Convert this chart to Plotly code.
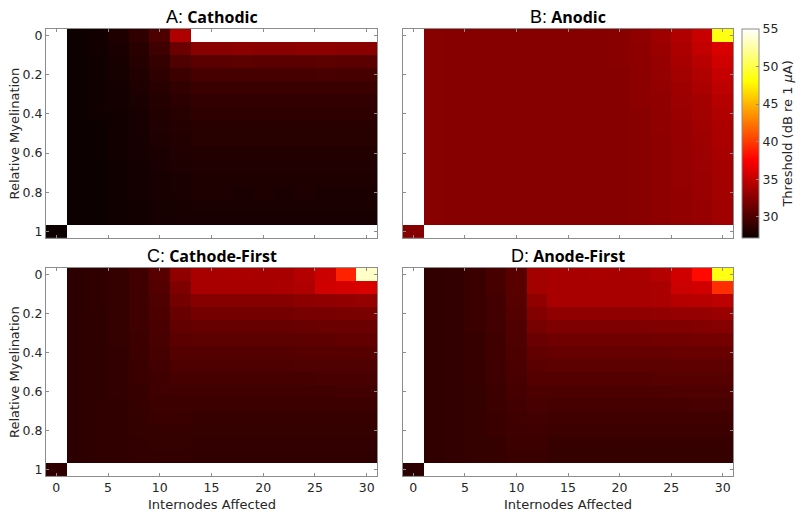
import plotly.graph_objects as go

N = None

# x: internodes affected (cell centres), y: relative myelination (cell centres)
internodes = [0, 2, 4, 6, 8, 10, 12, 14, 16, 18, 20, 22, 24, 26, 28, 30]
myelination = [0.0, 0.0667, 0.1333, 0.2, 0.2667, 0.3333, 0.4, 0.4667,
               0.5333, 0.6, 0.6667, 0.7333, 0.8, 0.8667, 0.9333, 1.0]
x_ticks = [0, 5, 10, 15, 20, 25, 30]
y_ticks = [0, 0.2, 0.4, 0.6, 0.8, 1]
y_ticklabels = ["0", "0.2", "0.4", "0.6", "0.8", "1"]
cbar_ticks = [30, 35, 40, 45, 50, 55]

# Thresholds (dB re 1 uA); rows = myelination 0 .. 0.933, columns = internodes 2 .. 30
cathodic = [
    [27.3, 27.5, 28.0, 28.8, 30.0, 34.2, N, N, N, N, N, N, N, N, N],
    [27.3, 27.5, 27.9, 28.5, 29.4, 31.3, 32.6, 32.6, 32.7, 32.6, 32.6, 32.7, 32.7, 32.6, 32.6],
    [27.3, 27.4, 27.8, 28.3, 29.0, 30.1, 30.6, 30.6, 30.7, 30.6, 30.6, 30.6, 30.7, 30.6, 30.6],
    [27.3, 27.4, 27.7, 28.1, 28.7, 29.3, 29.7, 29.7, 29.7, 29.7, 29.7, 29.7, 29.8, 29.7, 29.7],
    [27.3, 27.4, 27.6, 28.0, 28.5, 28.9, 29.2, 29.2, 29.2, 29.2, 29.2, 29.2, 29.2, 29.2, 29.2],
    [27.3, 27.4, 27.6, 27.9, 28.3, 28.6, 28.9, 28.9, 28.9, 28.9, 28.9, 28.9, 28.9, 28.9, 28.9],
    [27.3, 27.4, 27.5, 27.8, 28.2, 28.4, 28.7, 28.7, 28.7, 28.7, 28.7, 28.7, 28.7, 28.7, 28.7],
    [27.3, 27.3, 27.5, 27.8, 28.1, 28.3, 28.5, 28.5, 28.5, 28.5, 28.5, 28.5, 28.5, 28.5, 28.5],
    [27.3, 27.3, 27.5, 27.7, 28.0, 28.2, 28.4, 28.4, 28.4, 28.4, 28.4, 28.4, 28.4, 28.4, 28.4],
    [27.3, 27.3, 27.5, 27.7, 27.9, 28.1, 28.2, 28.2, 28.2, 28.2, 28.2, 28.2, 28.2, 28.2, 28.2],
    [27.3, 27.3, 27.4, 27.6, 27.9, 28.0, 28.1, 28.1, 28.1, 28.1, 28.1, 28.1, 28.1, 28.1, 28.1],
    [27.3, 27.3, 27.4, 27.6, 27.8, 27.9, 28.0, 28.0, 28.0, 28.0, 28.0, 28.0, 28.0, 28.0, 28.0],
    [27.3, 27.3, 27.4, 27.6, 27.8, 27.9, 28.0, 28.0, 27.9, 28.0, 27.9, 28.0, 27.9, 27.9, 27.9],
    [27.3, 27.3, 27.4, 27.5, 27.7, 27.8, 27.9, 27.9, 27.9, 27.9, 27.9, 27.9, 27.9, 27.9, 27.9],
    [27.3, 27.3, 27.4, 27.5, 27.7, 27.8, 27.8, 27.8, 27.8, 27.8, 27.8, 27.8, 27.8, 27.8, 27.8],
]
cathodic_intact = 27.3

anodic = [
    [32.6, 32.5, 32.5, 32.5, 32.5, 32.5, 32.5, 32.5, 32.5, 32.6, 32.9, 33.5, 34.3, 35.3, 48.5],
    [32.6, 32.5, 32.5, 32.5, 32.5, 32.5, 32.5, 32.5, 32.5, 32.6, 32.8, 33.3, 34.1, 35.0, 36.0],
    [32.6, 32.5, 32.5, 32.5, 32.5, 32.5, 32.5, 32.5, 32.5, 32.6, 32.8, 33.2, 33.9, 34.6, 35.6],
    [32.6, 32.5, 32.5, 32.5, 32.5, 32.5, 32.5, 32.5, 32.5, 32.5, 32.7, 33.1, 33.7, 34.3, 35.2],
    [32.6, 32.5, 32.5, 32.5, 32.5, 32.5, 32.5, 32.5, 32.5, 32.5, 32.7, 33.0, 33.5, 34.0, 34.8],
    [32.6, 32.5, 32.5, 32.5, 32.5, 32.5, 32.5, 32.5, 32.5, 32.5, 32.7, 32.9, 33.4, 33.8, 34.5],
    [32.6, 32.5, 32.5, 32.5, 32.5, 32.5, 32.5, 32.5, 32.5, 32.5, 32.6, 32.9, 33.3, 33.7, 34.3],
    [32.6, 32.5, 32.5, 32.5, 32.5, 32.5, 32.5, 32.5, 32.5, 32.5, 32.6, 32.9, 33.2, 33.6, 34.1],
    [32.6, 32.5, 32.5, 32.5, 32.5, 32.5, 32.5, 32.5, 32.5, 32.5, 32.6, 32.8, 33.2, 33.5, 34.0],
    [32.6, 32.5, 32.5, 32.5, 32.5, 32.5, 32.5, 32.5, 32.5, 32.5, 32.6, 32.8, 33.1, 33.4, 33.9],
    [32.6, 32.5, 32.5, 32.5, 32.5, 32.5, 32.5, 32.5, 32.5, 32.5, 32.6, 32.8, 33.1, 33.4, 33.8],
    [32.6, 32.5, 32.5, 32.5, 32.5, 32.5, 32.5, 32.5, 32.5, 32.5, 32.6, 32.8, 33.1, 33.3, 33.7],
    [32.6, 32.5, 32.5, 32.5, 32.5, 32.5, 32.5, 32.5, 32.5, 32.5, 32.6, 32.8, 33.0, 33.3, 33.7],
    [32.6, 32.5, 32.5, 32.5, 32.5, 32.5, 32.5, 32.5, 32.5, 32.5, 32.6, 32.8, 33.0, 33.2, 33.6],
    [32.6, 32.5, 32.5, 32.5, 32.5, 32.5, 32.5, 32.5, 32.5, 32.5, 32.6, 32.8, 33.0, 33.2, 33.6],
]
anodic_intact = 32.4

cathode_first = [
    [28.6, 28.8, 29.0, 29.5, 30.5, 32.9, 33.9, 33.9, 34.0, 33.9, 33.9, 34.4, 35.4, 39.0, 53.5],
    [28.6, 28.8, 29.0, 29.5, 30.3, 32.1, 33.9, 33.9, 33.9, 33.9, 34.0, 34.2, 35.6, 35.8, 36.0],
    [28.6, 28.8, 29.0, 29.4, 30.1, 31.7, 32.5, 32.5, 32.5, 32.5, 32.5, 32.7, 32.9, 33.0, 33.1],
    [28.6, 28.7, 29.0, 29.4, 30.0, 31.2, 31.7, 31.7, 31.7, 31.7, 31.7, 31.8, 31.9, 32.0, 32.0],
    [28.6, 28.7, 29.0, 29.4, 29.9, 30.9, 31.1, 31.1, 31.1, 31.1, 31.1, 31.2, 31.3, 31.3, 31.3],
    [28.6, 28.7, 29.0, 29.3, 29.8, 30.6, 30.7, 30.7, 30.7, 30.7, 30.7, 30.8, 30.8, 30.9, 30.9],
    [28.6, 28.7, 28.9, 29.3, 29.7, 30.3, 30.3, 30.3, 30.3, 30.3, 30.3, 30.4, 30.4, 30.4, 30.5],
    [28.6, 28.7, 28.9, 29.2, 29.6, 30.0, 30.0, 30.0, 30.0, 30.0, 30.0, 30.1, 30.1, 30.1, 30.1],
    [28.6, 28.7, 28.9, 29.2, 29.5, 29.7, 29.7, 29.7, 29.7, 29.7, 29.7, 29.7, 29.8, 29.8, 29.8],
    [28.6, 28.7, 28.9, 29.1, 29.4, 29.5, 29.5, 29.5, 29.5, 29.5, 29.5, 29.5, 29.5, 29.6, 29.6],
    [28.6, 28.7, 28.8, 29.1, 29.3, 29.3, 29.3, 29.3, 29.3, 29.3, 29.3, 29.3, 29.3, 29.3, 29.3],
    [28.6, 28.7, 28.8, 29.0, 29.2, 29.2, 29.1, 29.1, 29.1, 29.1, 29.1, 29.1, 29.1, 29.1, 29.1],
    [28.6, 28.7, 28.8, 29.0, 29.1, 29.1, 29.0, 29.0, 29.0, 29.0, 29.0, 29.0, 29.0, 29.0, 29.0],
    [28.6, 28.7, 28.8, 28.9, 29.0, 29.0, 28.9, 28.9, 28.9, 28.9, 28.9, 28.9, 28.9, 28.9, 28.9],
    [28.6, 28.7, 28.8, 28.9, 28.9, 28.9, 28.8, 28.8, 28.8, 28.8, 28.8, 28.8, 28.8, 28.8, 28.8],
]
cathode_first_intact = 28.7

anode_first = [
    [28.8, 28.9, 29.2, 29.7, 30.5, 33.7, 33.9, 33.9, 34.0, 33.9, 34.0, 34.4, 35.6, 38.0, 48.5],
    [28.8, 28.9, 29.2, 29.7, 30.5, 33.7, 33.9, 33.9, 33.9, 33.9, 33.9, 34.0, 35.4, 35.6, 39.5],
    [28.8, 28.9, 29.2, 29.6, 30.4, 32.9, 33.9, 33.9, 33.9, 33.9, 33.9, 34.0, 34.5, 34.6, 34.8],
    [28.8, 28.9, 29.2, 29.6, 30.3, 32.3, 32.9, 32.9, 32.9, 32.9, 32.9, 33.0, 33.1, 33.2, 33.3],
    [28.8, 28.9, 29.2, 29.6, 30.2, 31.8, 32.1, 32.1, 32.1, 32.1, 32.1, 32.2, 32.2, 32.3, 32.4],
    [28.8, 28.9, 29.1, 29.5, 30.1, 31.3, 31.5, 31.5, 31.5, 31.5, 31.5, 31.6, 31.6, 31.7, 31.7],
    [28.8, 28.9, 29.1, 29.5, 30.0, 30.9, 31.1, 31.1, 31.1, 31.1, 31.1, 31.1, 31.2, 31.2, 31.2],
    [28.8, 28.9, 29.1, 29.4, 29.9, 30.6, 30.7, 30.7, 30.7, 30.7, 30.7, 30.7, 30.8, 30.8, 30.8],
    [28.8, 28.9, 29.1, 29.4, 29.8, 30.3, 30.3, 30.3, 30.3, 30.3, 30.3, 30.4, 30.4, 30.4, 30.4],
    [28.8, 28.9, 29.0, 29.3, 29.7, 30.0, 30.0, 30.0, 30.0, 30.0, 30.0, 30.0, 30.1, 30.1, 30.1],
    [28.8, 28.9, 29.0, 29.3, 29.6, 29.8, 29.7, 29.7, 29.7, 29.7, 29.7, 29.7, 29.7, 29.8, 29.8],
    [28.8, 28.9, 29.0, 29.2, 29.5, 29.6, 29.5, 29.5, 29.5, 29.5, 29.5, 29.5, 29.5, 29.5, 29.5],
    [28.8, 28.9, 29.0, 29.2, 29.4, 29.4, 29.3, 29.3, 29.3, 29.3, 29.3, 29.3, 29.3, 29.3, 29.3],
    [28.8, 28.9, 29.0, 29.1, 29.3, 29.3, 29.1, 29.1, 29.1, 29.1, 29.1, 29.1, 29.1, 29.1, 29.1],
    [28.8, 28.9, 29.0, 29.1, 29.2, 29.2, 29.0, 29.0, 29.0, 29.0, 29.0, 29.0, 29.0, 29.0, 29.0],
]
anode_first_intact = 28.6

panel_letters = ["A:", "B:", "C:", "D:"]
panel_names = ["Cathodic", "Anodic", "Cathode-First", "Anode-First"]
x_label = "Internodes Affected"
y_label = "Relative Myelination"
cbar_label = "Threshold (dB re 1 <i>μ</i>A)"
z_min, z_max = 27.2, 55


def full_grid(rows, intact):
    z = [[None] + list(r) for r in rows]
    z.append([intact] + [None] * (len(internodes) - 1))
    return z


W, H = 800, 517


def fx(px):
    return px / W


def fy(py):
    return 1 - py / H


# plot-area boxes in window pixels (left, right, top, bottom)
boxes = [(46, 377, 28, 238), (403, 733, 28, 238),
         (46, 377, 268, 477), (403, 733, 268, 477)]

hot = [[0.0, "rgb(11,0,0)"], [0.375, "rgb(255,0,0)"],
       [0.75, "rgb(255,255,0)"], [1.0, "rgb(255,255,255)"]]

grid_color = "#8c8c8c"
text_color = "#262626"
FONT = "DejaVu Sans"

fig = go.Figure()
datasets = [(cathodic, cathodic_intact), (anodic, anodic_intact),
            (cathode_first, cathode_first_intact), (anode_first, anode_first_intact)]

layout = {}
annotations = []
for i, (rows, intact) in enumerate(datasets):
    sfx = "" if i == 0 else str(i + 1)
    fig.add_trace(go.Heatmap(
        x=internodes, y=myelination, z=full_grid(rows, intact),
        coloraxis="coloraxis", xaxis="x" + sfx, yaxis="y" + sfx,
        hoverongaps=False))
    l, r, t, b = boxes[i]
    common = dict(showline=True, mirror="ticks", linecolor=grid_color, linewidth=1,
                  ticks="inside", ticklen=3, tickcolor=grid_color, showgrid=False,
                  zeroline=False, tickfont=dict(family=FONT, size=12.5, color=text_color))
    layout["xaxis" + sfx] = dict(domain=[fx(l), fx(r)], anchor="y" + sfx,
                                 range=[-1, 31], tickvals=x_ticks,
                                 showticklabels=(i >= 2), **common)
    layout["yaxis" + sfx] = dict(domain=[fy(b), fy(t)], anchor="x" + sfx,
                                 range=[1.0333, -0.0333], tickvals=y_ticks,
                                 ticktext=y_ticklabels,
                                 showticklabels=(i % 2 == 0), **common)
    cx = fx((l + r) / 2)
    annotations.append(dict(
        x=cx, y=fy(t - 12), xref="paper", yref="paper",
        xanchor="center", yanchor="middle", showarrow=False,
        text=("<span style='font-family:Liberation Sans;font-size:18px'>" + panel_letters[i] +
              "</span> <b>" + panel_names[i] + "</b>"),
        font=dict(family="Open Sans", size=16, color="#000000")))
    if i >= 2:
        annotations.append(dict(
            x=cx, y=fy(b + 28), xref="paper", yref="paper",
            xanchor="center", yanchor="middle", showarrow=False, text=x_label,
            font=dict(family=FONT, size=13, color=text_color)))
    if i % 2 == 0:
        annotations.append(dict(
            x=fx(14), y=fy((t + b) / 2), xref="paper", yref="paper",
            xanchor="center", yanchor="middle", showarrow=False, text=y_label,
            textangle=-90, font=dict(family=FONT, size=13, color=text_color)))

fig.update_layout(
    width=W, height=H, margin=dict(l=0, r=0, t=0, b=0),
    paper_bgcolor="white", plot_bgcolor="white", showlegend=False,
    annotations=annotations,
    coloraxis=dict(
        cmin=z_min, cmax=z_max, colorscale=hot,
        colorbar=dict(
            x=fx(742), xanchor="left", y=fy(28), yanchor="top",
            len=210 / H, lenmode="fraction", thickness=17, thicknessmode="pixels",
            xpad=0, ypad=0, outlinecolor=grid_color, outlinewidth=1,
            ticks="inside", ticklen=3, tickcolor=grid_color, tickvals=cbar_ticks,
            tickfont=dict(family=FONT, size=12.5, color=text_color),
            title=dict(text=cbar_label, side="right",
                       font=dict(family=FONT, size=13, color=text_color)))),
    **layout)

# remove the browser's default 8px body margin so the 800x517 figure fills the window
fig.write_html("out.html",
               config={"displayModeBar": False},
               post_script="document.body.style.margin='0';document.body.style.overflow='hidden';")
